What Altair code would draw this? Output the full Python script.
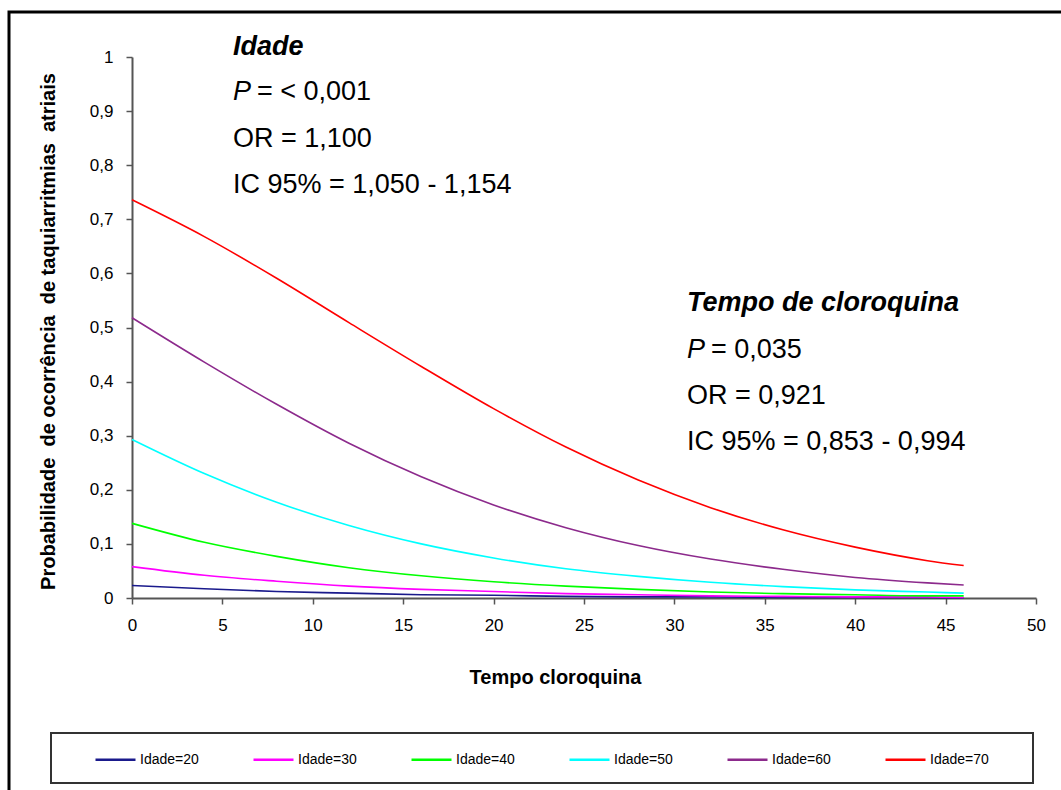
import altair as alt
import pandas as pd

# Tempo de cloroquina (x) sample points
tempo = [0, 4, 8, 12, 16, 20, 24, 28, 32, 36, 40, 44, 46]

# Probabilities, one list per age group
idade20 = [0.023, 0.017, 0.012, 0.009, 0.006, 0.005, 0.003, 0.002, 0.002, 0.001, 0.001, 0.001, 0.000]
idade30 = [0.058, 0.042, 0.031, 0.022, 0.016, 0.012, 0.008, 0.006, 0.004, 0.003, 0.002, 0.002, 0.001]
idade40 = [0.138, 0.103, 0.077, 0.056, 0.041, 0.030, 0.022, 0.016, 0.011, 0.008, 0.006, 0.004, 0.004]
idade50 = [0.293, 0.230, 0.177, 0.134, 0.100, 0.074, 0.054, 0.040, 0.029, 0.021, 0.015, 0.011, 0.009]
idade60 = [0.518, 0.436, 0.358, 0.286, 0.224, 0.172, 0.130, 0.097, 0.072, 0.053, 0.038, 0.028, 0.024]
idade70 = [0.736, 0.668, 0.591, 0.509, 0.428, 0.350, 0.279, 0.218, 0.167, 0.126, 0.094, 0.069, 0.060]

series_names = ["Idade=20", "Idade=30", "Idade=40", "Idade=50", "Idade=60", "Idade=70"]
series_values = [idade20, idade30, idade40, idade50, idade60, idade70]
series_colors = ["#1a1a8c", "#ff00ff", "#00ff00", "#00ffff", "#8c2a8c", "#ff0000"]

x_ticks = [0, 5, 10, 15, 20, 25, 30, 35, 40, 45, 50]
y_ticks = [0, 0.1, 0.2, 0.3, 0.4, 0.5, 0.6, 0.7, 0.8, 0.9, 1.0]

rows = []
for name, vals in zip(series_names, series_values):
    for t, v in zip(tempo, vals):
        rows.append({"tempo": t, "prob": v, "serie": name})
df = pd.DataFrame(rows)

FONT = "Liberation Sans"
W, H = 904, 541
OX, OY = 132, 57  # plot origin on the page

lines = alt.Chart(df).mark_line(strokeWidth=1.6, interpolate="monotone", clip=False).encode(
    x=alt.X("tempo:Q",
            scale=alt.Scale(domain=[0, 50], nice=False),
            axis=alt.Axis(values=x_ticks, title="Tempo cloroquina", grid=False,
                          labelFont=FONT, labelFontSize=17, labelColor="#000",
                          titleFont=FONT, titleFontSize=20, titleFontWeight="bold",
                          titleColor="#000", titleX=555 - OX, titleY=677 - OY - H,
                          titleBaseline="middle", titleAlign="center", labelPadding=13,
                          domainColor="#555", domainWidth=2, tickColor="#555",
                          tickWidth=1.5, tickSize=6, labelFlush=False)),
    y=alt.Y("prob:Q",
            scale=alt.Scale(domain=[0, 1], nice=False),
            axis=alt.Axis(values=y_ticks, grid=False,
                          title="Probabilidade\u00a0 de ocorrência\u00a0 de taquiarritmias\u00a0 atriais",
                          labelExpr="datum.value == 0 ? '0' : (datum.value == 1 ? '1' : replace(format(datum.value, '.1f'), '.', ','))",
                          labelFont=FONT, labelFontSize=17, labelColor="#000",
                          titleFont=FONT, titleFontSize=20, titleFontWeight="bold",
                          titleColor="#000", titleX=48 - OX, titleY=331 - OY,
                          titleBaseline="middle", titleAlign="center", labelPadding=13,
                          domainColor="#555", domainWidth=2, tickColor="#555",
                          tickWidth=1.5, tickSize=6, labelFlush=False)),
    color=alt.Color("serie:N",
                    scale=alt.Scale(domain=series_names, range=series_colors),
                    legend=alt.Legend(orient="none", legendX=94 - OX, legendY=738 - OY,
                                      direction="horizontal", title=None,
                                      symbolType="stroke", symbolSize=1600,
                                      symbolStrokeWidth=2.5, labelFont=FONT,
                                      labelFontSize=14, labelColor="#000",
                                      labelOffset=3, columnPadding=49, padding=0)),
)

# annotation text table
ann_text = ["Idade", "P", "= < 0,001", "OR = 1,100", "IC 95% = 1,050 - 1,154",
            "Tempo de cloroquina", "P", "= 0,035", "OR = 0,921", "IC 95% = 0,853 - 0,994"]
ann_x = [233, 233, 257, 233, 233, 687, 687, 711, 687, 687]
ann_y = [47, 92, 92, 139, 185, 303, 350, 350, 396, 442]
ann_style = ["bi", "i", "n", "n", "n", "bi", "i", "n", "n", "n"]

one = alt.Data(values=[{"k": 1}])

text_layers = []
for t, xx, yy, st in zip(ann_text, ann_x, ann_y, ann_style):
    kw = dict(text=t, font=FONT, fontSize=27, color="#000", align="left",
              baseline="middle", clip=False)
    if "b" in st:
        kw["fontWeight"] = "bold"
    if "i" in st:
        kw["fontStyle"] = "italic"
    text_layers.append(
        alt.Chart(one).mark_text(**kw).encode(x=alt.value(xx - OX), y=alt.value(yy - OY))
    )

legend_box = alt.Chart(one).mark_rect(filled=False, stroke="#333", strokeWidth=2, clip=False).encode(
    x=alt.value(51 - OX), x2=alt.value(1033 - OX), y=alt.value(733 - OY), y2=alt.value(783 - OY)
)

outer_box = alt.Chart(one).mark_rect(filled=False, stroke="#000", strokeWidth=3, clip=False).encode(
    x=alt.value(9 - OX), x2=alt.value(1061 - OX + 20), y=alt.value(12 - OY), y2=alt.value(790 - OY + 20)
)

chart = alt.layer(outer_box, legend_box, lines, *text_layers).properties(
    width=W, height=H,
    autosize=alt.AutoSizeParams(type="none"),
    padding={"left": OX, "top": OY, "right": 1061 - OX - W, "bottom": 790 - OY - H},
    background="white",
).configure_view(stroke=None)

chart.save("out.html", embed_options={"renderer": "svg", "actions": False})
